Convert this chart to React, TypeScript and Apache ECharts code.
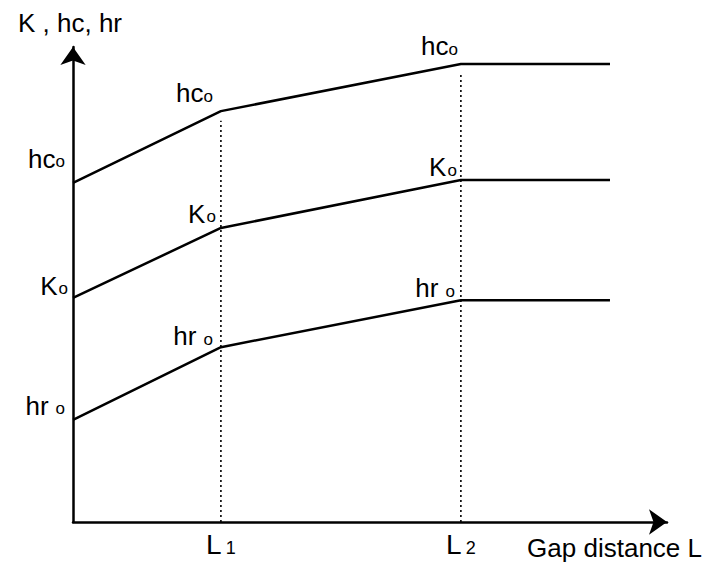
import React, { useEffect, useRef } from "react";
import * as echarts from "echarts";

// Data (in axis units: x 0..100, y 0..100)
const xPoints = [0, 24.9, 65.3, 90.4];
const hcValues = [71.4, 86.5, 96.4, 96.4];
const kValues = [47.2, 61.9, 72.0, 72.0];
const hrValues = [21.5, 36.8, 46.7, 46.7];
const xTickValues = [24.9, 65.3];
const xTickSubs = ["1", "2"];
const yAxisTitle = "K , hc, hr";
const xAxisTitle = "Gap distance L";
const subLetter = "o";

const FONT = "'Liberation Sans', Arial, Helvetica, sans-serif";
const MAIN = 26;
const SUB = 17;

const rich = {
  m: { fontSize: MAIN, fontFamily: FONT, color: "#000", lineHeight: 28, verticalAlign: "middle" },
  lm: { fontSize: 28, fontFamily: FONT, color: "#000", lineHeight: 28, verticalAlign: "middle" },
  s: { fontSize: SUB, fontFamily: FONT, color: "#000", verticalAlign: "middle", padding: [6, 0, 0, 0] },
  sk: { fontSize: SUB, fontFamily: FONT, color: "#000", verticalAlign: "middle", padding: [6, 0, 0, 1] },
  sr: { fontSize: SUB, fontFamily: FONT, color: "#000", verticalAlign: "middle", padding: [6, 0, 0, 7] },
  sl: { fontSize: 18, fontFamily: FONT, color: "#000", verticalAlign: "middle", padding: [7, 0, 0, 4] },
};

function makeSeries(name: string, values: number[], label: string, offsets: number[][]) {
  return {
    type: "line",
    name,
    data: values.map((v, i) => ({
      value: [xPoints[i], v],
      label: i < 3 ? { show: true, offset: offsets[i] } : { show: false },
    })),
    symbol: "circle",
    symbolSize: 1,
    showSymbol: true,
    itemStyle: { color: "rgba(0,0,0,0)", borderWidth: 0 },
    lineStyle: { color: "#000", width: 2.5 },
    emphasis: { disabled: true },
    label: {
      position: "inside",
      align: "right",
      verticalAlign: "bottom",
      color: "#000",
      formatter: label,
      rich,
    },
    z: 3,
  };
}

function dotted(x: number, top: number) {
  return {
    type: "line",
    data: [
      [x, 0],
      [x, top],
    ],
    symbol: "none",
    lineStyle: { color: "#000", width: 1.6, type: [2, 3] },
    emphasis: { disabled: true },
    z: 2,
  };
}

export default function App() {
  const ref = useRef<HTMLDivElement>(null);
  useEffect(() => {
    if (!ref.current) return;
    const chart = echarts.init(ref.current, undefined, { renderer: "svg" });
    const axisLine = {
      show: true,
      symbol: ["none", "arrow"],
      symbolSize: [19, 18],
      lineStyle: { color: "#000", width: 2.5 },
    };
    chart.setOption({
      animation: false,
      backgroundColor: "#fff",
      grid: { left: 73, right: 38, top: 47, bottom: 43, containLabel: false, outerBoundsMode: "none" },
      xAxis: {
        type: "value",
        min: 0,
        max: 100,
        axisLine,
        axisTick: { show: false },
        splitLine: { show: false },
        axisLabel: {
          show: true,
          customValues: xTickValues,
          margin: 8,
          formatter: (v: number) => {
            const i = xTickValues.indexOf(v);
            return `{lm|L}{sl|${xTickSubs[i] ?? ""}}`;
          },
          rich,
        },
        name: xAxisTitle,
        nameLocation: "end",
        nameGap: 35,
        nameTextStyle: {
          fontSize: MAIN,
          fontFamily: FONT,
          color: "#000",
          align: "right",
          verticalAlign: "top",
          padding: [13, 0, 0, 0],
        },
      },
      yAxis: {
        type: "value",
        min: 0,
        max: 100,
        axisLine,
        axisTick: { show: false },
        splitLine: { show: false },
        axisLabel: { show: false },
        name: yAxisTitle,
        nameLocation: "end",
        nameGap: 11,
        nameTextStyle: {
          fontSize: MAIN,
          fontFamily: FONT,
          color: "#000",
          align: "center",
          padding: [0, 6, 0, 0],
        },
      },
      series: [
        dotted(xPoints[1], hcValues[1] - 2),
        dotted(xPoints[2], hcValues[2] - 2),
        makeSeries("hc", hcValues, `{m|hc}{s|${subLetter}}`, [
          [-8, -10],
          [-8, -4],
          [-3, -4],
        ]),
        makeSeries("K", kValues, `{m|K}{sk|${subLetter}}`, [
          [-5, 2],
          [-5, 0],
          [-4, 1],
        ]),
        makeSeries("hr", hrValues, `{m|hr}{sr|${subLetter}}`, [
          [-8, 0],
          [-8, 3],
          [-6, 2],
        ]),
      ],
    });
    return () => chart.dispose();
  }, []);
  return (
    <div
      ref={ref}
      style={{ position: "absolute", left: 0, top: 0, width: 705, height: 565 }}
    />
  );
}
